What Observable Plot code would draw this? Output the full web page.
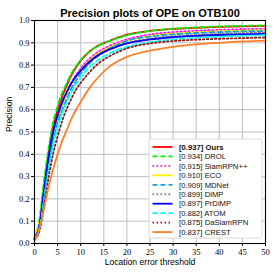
<!DOCTYPE html>
<html><head><meta charset="utf-8">
<script src="https://cdn.jsdelivr.net/npm/d3@7"></script>
<script src="https://cdn.jsdelivr.net/npm/@observablehq/plot@0.6"></script>
<style>body{margin:0;background:#fff}</style>
</head><body><div id="chart"></div>
<script>
const thresholds = [0,1,2,3,4,5,6,7,8,9,10,12,14,16,18,20,25,30,35,40,45,50];
const ours      = [0.02,0.08,0.24,0.40,0.52,0.60,0.66,0.71,0.755,0.79,0.82,0.862,0.89,0.907,0.923,0.937,0.953,0.962,0.967,0.971,0.974,0.976];
const drol      = [0.03,0.10,0.27,0.42,0.54,0.615,0.675,0.72,0.762,0.795,0.822,0.862,0.889,0.906,0.921,0.934,0.953,0.963,0.969,0.973,0.976,0.978];
const siamrpnpp = [0.02,0.07,0.21,0.36,0.48,0.56,0.625,0.675,0.72,0.755,0.785,0.83,0.862,0.884,0.901,0.915,0.937,0.948,0.954,0.958,0.961,0.963];
const eco       = [0.04,0.09,0.22,0.36,0.47,0.55,0.615,0.665,0.71,0.745,0.775,0.822,0.855,0.877,0.895,0.910,0.930,0.941,0.947,0.951,0.954,0.956];
const mdnet     = [0.03,0.08,0.21,0.35,0.46,0.54,0.60,0.65,0.695,0.73,0.762,0.81,0.846,0.872,0.892,0.909,0.928,0.938,0.944,0.948,0.951,0.953];
const dimp      = [0.02,0.07,0.22,0.37,0.49,0.57,0.63,0.68,0.72,0.75,0.775,0.818,0.848,0.870,0.886,0.899,0.918,0.929,0.935,0.940,0.943,0.946];
const prdimp    = [0.02,0.07,0.23,0.38,0.50,0.575,0.635,0.68,0.72,0.75,0.775,0.817,0.847,0.868,0.884,0.897,0.915,0.925,0.931,0.935,0.938,0.940];
const atom      = [0.02,0.06,0.19,0.33,0.44,0.52,0.585,0.635,0.68,0.715,0.745,0.792,0.826,0.850,0.868,0.882,0.903,0.915,0.922,0.927,0.931,0.934];
const dasiam    = [0.02,0.05,0.16,0.29,0.40,0.48,0.55,0.605,0.65,0.69,0.72,0.77,0.81,0.837,0.858,0.875,0.897,0.908,0.914,0.918,0.921,0.924];
const crest     = [0.01,0.06,0.15,0.25,0.33,0.40,0.46,0.51,0.56,0.60,0.635,0.70,0.75,0.79,0.817,0.837,0.865,0.882,0.893,0.900,0.906,0.910];

const names  = ["Ours","DROL","SiamRPN++","ECO","MDNet","DiMP","PrDiMP","ATOM","DaSiamRPN","CREST"];
const scores = ["0.937","0.934","0.915","0.910","0.909","0.899","0.897","0.882","0.875","0.837"];
const seriesValues = [ours,drol,siamrpnpp,eco,mdnet,dimp,prdimp,atom,dasiam,crest];
const colors = ["#ff0000","#00ee00","#ff00ff","#ffee00","#1a9ee6","#808080","#0000ff","#00ffff","#8b1a1a","#ff7f27"];
const dashes = [null,"5,3","1.6,2.4",null,"5,3","1.6,2.4",null,"5,3","1.6,2.4",null];
const xTicks = [0,5,10,15,20,25,30,35,40,45,50];
const yTicks = [0,0.1,0.2,0.3,0.4,0.5,0.6,0.7,0.8,0.9,1.0];

const marks = [
  Plot.gridX(xTicks,{stroke:"#b8b8b8",strokeOpacity:1,strokeWidth:0.9}),
  Plot.gridY(yTicks,{stroke:"#b8b8b8",strokeOpacity:1,strokeWidth:0.9}),
];
seriesValues.forEach((vals,i)=>{
  const data = thresholds.map((t,j)=>({t, p: vals[j]}));
  marks.push(Plot.line(data,{x:"t",y:"p",stroke:colors[i],strokeWidth:1.8,
    strokeDasharray:dashes[i]||undefined,curve:"monotone-x"}));
});
marks.push(
  Plot.axisX({ticks:xTicks,tickSize:3,tickFormat:d=>String(d),fontFamily:"Liberation Serif",fontSize:8.5,
    label:null,tickPadding:2}),
  Plot.axisY({ticks:yTicks,tickSize:3,tickFormat:d=>d.toFixed(1),fontFamily:"Liberation Serif",fontSize:8.5,
    label:null,tickPadding:2}),
  Plot.frame({stroke:"#000",strokeWidth:1.1}),
  Plot.text(["Precision plots of OPE on OTB100"],{frameAnchor:"top",dy:-11,fontWeight:"bold",fontSize:11,
    fontFamily:"Liberation Sans",fill:"#000"}),
  Plot.text(["Location error threshold"],{frameAnchor:"bottom",dy:21,fontSize:8.6,
    fontFamily:"Liberation Sans",fill:"#000"}),
  Plot.text(["Precision"],{frameAnchor:"left",dx:-25,rotate:-90,fontSize:8.6,
    fontFamily:"Liberation Sans",fill:"#000"})
);

const plot = Plot.plot({
  width:275,height:274,
  marginLeft:34,marginRight:10,marginTop:20,marginBottom:31,
  x:{domain:[0,50]},
  y:{domain:[0,1]},
  style:{fontFamily:"Liberation Sans",fontSize:"8px",color:"#000",background:"#fff",overflow:"visible"},
  marks
});
document.getElementById("chart").appendChild(plot);

// legend (lower right inside the frame)
const sx = plot.scale("x"), sy = plot.scale("y");
const right = sx.range[1], bottom = sy.range[0];
const svg = d3.select(plot);
const g = svg.append("g").attr("font-family","Liberation Sans").attr("font-size",7.7).attr("text-anchor","start");
const rowH = 9.45, boxW = 113, boxH = 99;
const bx = right - boxW - 3, by = bottom - boxH - 5;
g.append("rect").attr("x",bx).attr("y",by).attr("width",boxW).attr("height",boxH)
  .attr("rx",2).attr("fill","#fff").attr("stroke","#d0d0d0").attr("stroke-width",0.8);
names.forEach((n,i)=>{
  const yy = by + 8 + i*rowH;
  g.append("line").attr("x1",bx+3.5).attr("x2",bx+23.5).attr("y1",yy).attr("y2",yy)
    .attr("stroke",colors[i]).attr("stroke-width",1.8).attr("stroke-dasharray",dashes[i]);
  g.append("text").attr("x",bx+30).attr("y",yy).attr("dy","0.36em").attr("text-anchor","start")
    .attr("font-weight",i===0?"bold":"normal").attr("fill","#111")
    .text(`[${scores[i]}] ${n}`);
});
</script></body></html>
